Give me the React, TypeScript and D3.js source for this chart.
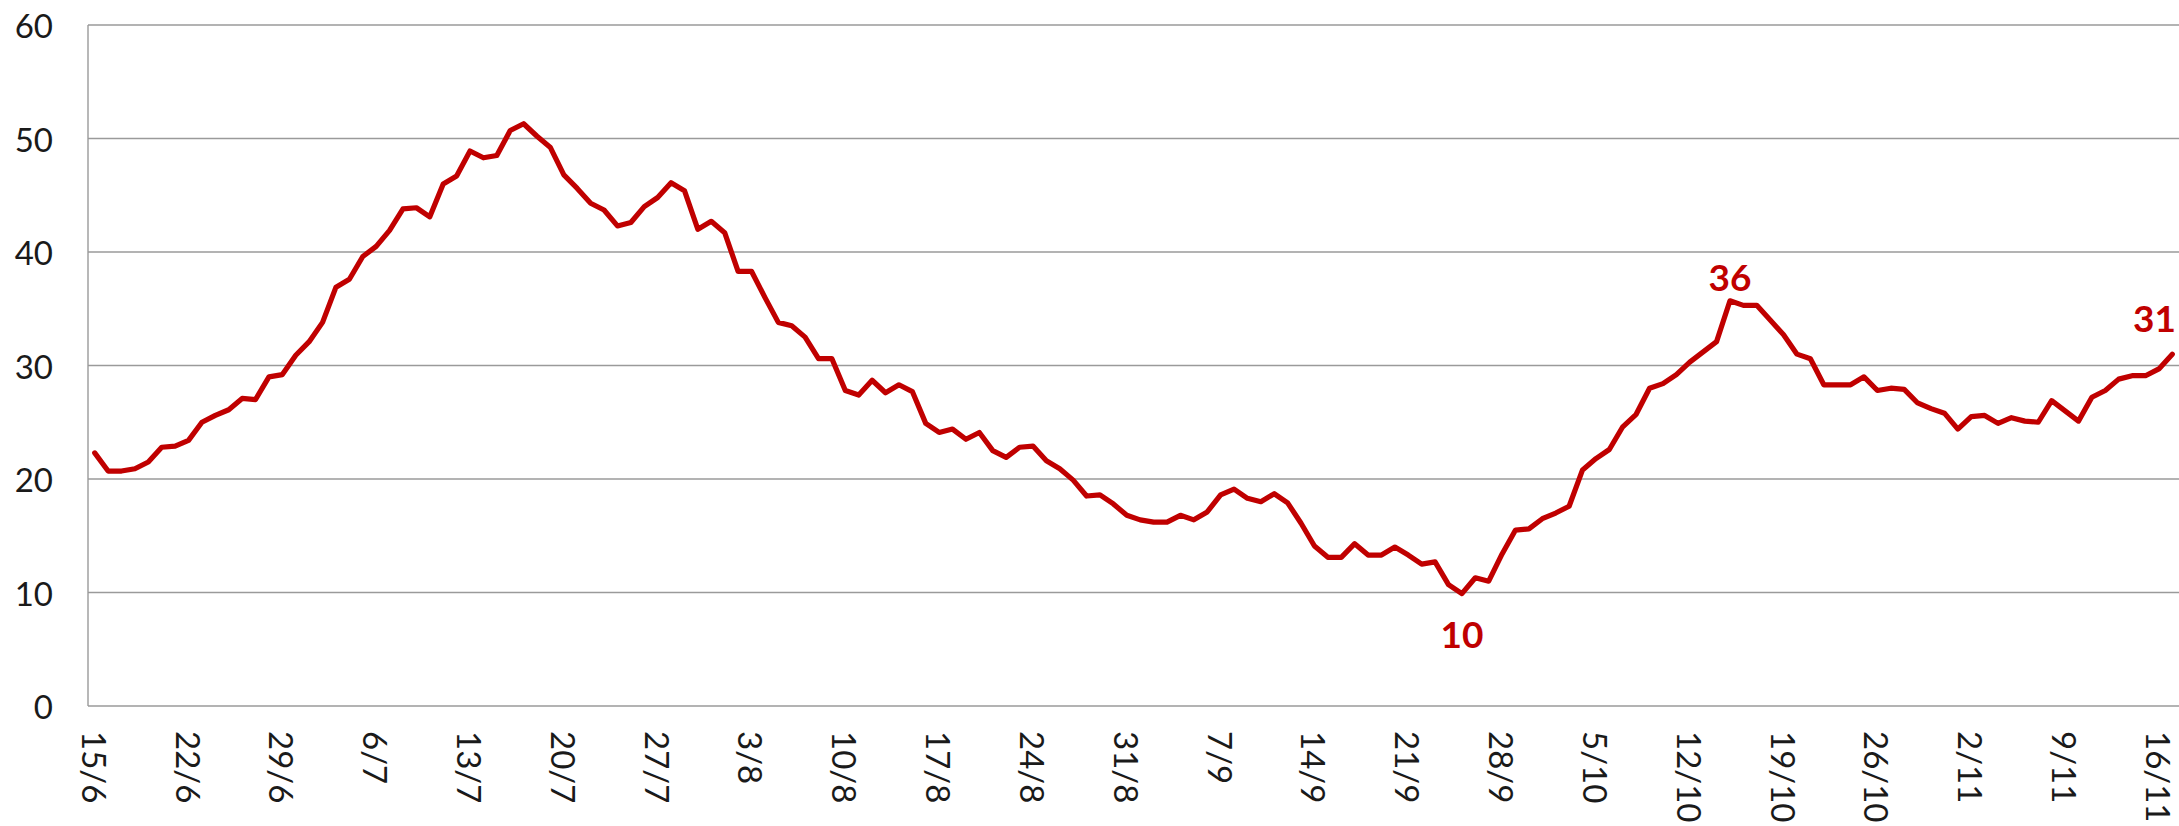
import React, { useRef, useEffect } from "react";
import * as d3 from "d3";

// daily values, 15/6 .. 17/11
const values: number[] = [
  22.3, 20.7, 20.7, 20.9, 21.5, 22.8, 22.9, 23.4, 25.0, 25.6,
  26.1, 27.1, 27.0, 29.0, 29.2, 30.9, 32.1, 33.8, 36.9, 37.6,
  39.6, 40.5, 41.9, 43.8, 43.9, 43.1, 46.0, 46.7, 48.9, 48.3,
  48.5, 50.7, 51.3, 50.2, 49.2, 46.8, 45.6, 44.3, 43.7, 42.3,
  42.6, 44.0, 44.8, 46.1, 45.4, 42.0, 42.7, 41.7, 38.3, 38.3,
  36.0, 33.8, 33.5, 32.5, 30.6, 30.6, 27.8, 27.4, 28.7, 27.6,
  28.3, 27.7, 24.9, 24.1, 24.4, 23.5, 24.1, 22.5, 21.9, 22.8,
  22.9, 21.6, 20.9, 19.9, 18.5, 18.6, 17.8, 16.8, 16.4, 16.2,
  16.2, 16.8, 16.4, 17.1, 18.6, 19.1, 18.3, 18.0, 18.7, 17.9,
  16.1, 14.1, 13.1, 13.1, 14.3, 13.3, 13.3, 14.0, 13.3, 12.5,
  12.7, 10.7, 9.9, 11.3, 11.0, 13.4, 15.5, 15.6, 16.5, 17.0,
  17.6, 20.8, 21.8, 22.6, 24.6, 25.7, 28.0, 28.4, 29.2, 30.3,
  31.2, 32.1, 35.7, 35.3, 35.3, 34.0, 32.7, 31.0, 30.6, 28.3,
  28.3, 28.3, 29.0, 27.8, 28.0, 27.9, 26.7, 26.2, 25.8, 24.4,
  25.5, 25.6, 24.9, 25.4, 25.1, 25.0, 26.9, 26.0, 25.1, 27.2,
  27.8, 28.8, 29.1, 29.1, 29.7, 31.0,
];

// categories: one per day starting 15/6
const fmt = d3.timeFormat("%-d/%-m");
const startDay = new Date(2020, 5, 15);
const categories: string[] = values.map((_, i) => fmt(d3.timeDay.offset(startDay, i)));

const tickLabels: string[] = [
  "15/6", "22/6", "29/6", "6/7", "13/7", "20/7", "27/7", "3/8", "10/8", "17/8",
  "24/8", "31/8", "7/9", "14/9", "21/9", "28/9", "5/10", "12/10", "19/10", "26/10",
  "2/11", "9/11", "16/11",
];

const yTicks: number[] = [0, 10, 20, 30, 40, 50, 60];

// labelled points: category + placement
const callouts = [
  { date: "25/9", place: "below" },
  { date: "15/10", place: "above" },
  { date: "17/11", place: "end" },
];

const W = 2179;
const H = 826;
const FONT = "Lato, 'Open Sans', sans-serif";

const Chart: React.FC = () => {
  const svgRef = useRef<SVGSVGElement>(null);

  useEffect(() => {
    if (!svgRef.current) return;
    const margin = { top: 25, right: 0, bottom: 120, left: 88 };

    const x = d3
      .scalePoint<string>()
      .domain(categories)
      .range([margin.left, W - margin.right])
      .padding(0.5);

    const y = d3
      .scaleLinear()
      .domain([0, 60])
      .range([H - margin.bottom, margin.top]);

    const svg = d3.select(svgRef.current);
    svg.selectAll("*").remove();

    // gridlines
    svg
      .append("g")
      .selectAll("line")
      .data(yTicks)
      .join("line")
      .attr("x1", margin.left)
      .attr("x2", W - margin.right)
      .attr("y1", (d) => y(d))
      .attr("y2", (d) => y(d))
      .attr("stroke", "#9a9a9a")
      .attr("stroke-width", 1.4);

    // left axis line
    svg
      .append("line")
      .attr("x1", margin.left)
      .attr("x2", margin.left)
      .attr("y1", y(60))
      .attr("y2", y(0))
      .attr("stroke", "#9a9a9a")
      .attr("stroke-width", 1.4);

    // y labels
    svg
      .append("g")
      .selectAll("text")
      .data(yTicks)
      .join("text")
      .attr("x", 53)
      .attr("y", (d) => y(d))
      .attr("text-anchor", "end")
      .attr("dominant-baseline", "central")
      .style("font-family", FONT)
      .style("font-size", "33px")
      .attr("fill", "#1a1a1a")
      .text((d) => d);

    // x labels, rotated
    svg
      .append("g")
      .selectAll("text")
      .data(tickLabels)
      .join("text")
      .attr("transform", (d) => `translate(${x(d)},${y(0) + 25}) rotate(90)`)
      .attr("text-anchor", "start")
      .attr("dominant-baseline", "central")
      .style("font-family", FONT)
      .style("font-size", "33px")
      .attr("fill", "#1a1a1a")
      .text((d) => d);

    // the line
    const line = d3
      .line<number>()
      .x((_, i) => x(categories[i])!)
      .y((d) => y(d));

    svg
      .append("path")
      .datum(values)
      .attr("d", line)
      .attr("fill", "none")
      .attr("stroke", "#C00000")
      .attr("stroke-width", 5.2)
      .attr("stroke-linejoin", "round")
      .attr("stroke-linecap", "round");

    // callout labels
    callouts.forEach((c) => {
      const i = categories.indexOf(c.date);
      const v = values[i];
      const px = x(c.date)!;
      const py = y(v);
      const t = svg
        .append("text")
        .style("font-family", FONT)
        .style("font-size", "37px")
        .style("font-weight", "bold")
        .attr("fill", "#C00000")
        .text(Math.round(v));
      if (c.place === "below") {
        t.attr("x", px).attr("y", py + 54).attr("text-anchor", "middle");
      } else if (c.place === "above") {
        t.attr("x", px).attr("y", py - 10).attr("text-anchor", "middle");
      } else {
        t.attr("x", W - 3).attr("y", py - 22).attr("text-anchor", "end");
      }
    });
  }, []);

  return (
    <svg
      ref={svgRef}
      width={W}
      height={H}
      style={{ position: "absolute", left: 0, top: 0, display: "block", background: "#fff" }}
    />
  );
};

export default function App() {
  useEffect(() => {
    document.body.style.margin = "0";
  }, []);
  return <Chart />;
}
